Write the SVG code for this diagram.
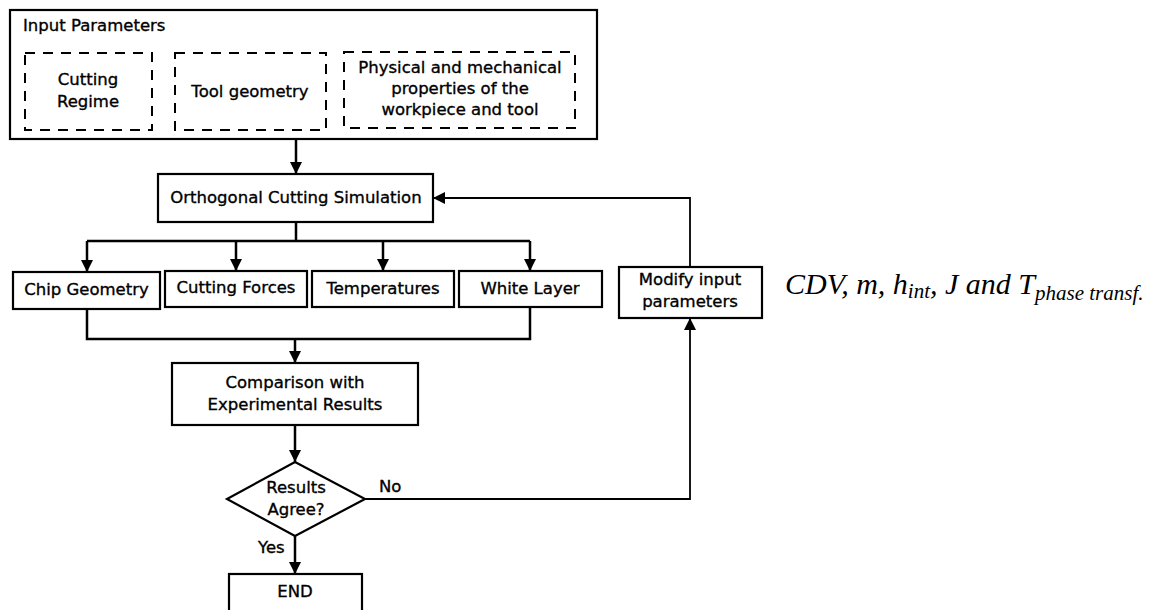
<svg xmlns="http://www.w3.org/2000/svg" width="1152" height="610" viewBox="0 0 1152 610">
<style>
.box{fill:#fff;stroke:#000;stroke-width:2.2}
.dash{fill:none;stroke:#000;stroke-width:2;stroke-dasharray:10 8}
.t{font-family:"DejaVu Sans",sans-serif;font-size:16.5px;fill:#000;stroke:#000;stroke-width:0.35}
.c{text-anchor:middle}
.ln{fill:none;stroke:#000;stroke-width:2.5}
.fb{fill:none;stroke:#000;stroke-width:1.8}
.f{font-family:"Liberation Serif","Times New Roman",serif;font-style:italic;fill:#000}
</style>
<defs>
<marker id="ah" viewBox="0 0 12 12" refX="12" refY="6" markerWidth="12" markerHeight="12" markerUnits="userSpaceOnUse" orient="auto">
<path d="M0,0 L12,6 L0,12 Z" fill="#000"/>
</marker>
</defs>
<rect width="1152" height="610" fill="#fff"/>
<g id="connectors">
<path class="ln" d="M296,139 V174" marker-end="url(#ah)"/>
<path class="ln" d="M296,222 V241 M87,241 H530"/>
<path class="ln" d="M87,241 V272" marker-end="url(#ah)"/>
<path class="ln" d="M236,241 V271" marker-end="url(#ah)"/>
<path class="ln" d="M383,241 V271" marker-end="url(#ah)"/>
<path class="ln" d="M530,241 V271" marker-end="url(#ah)"/>
<path class="ln" d="M87,309 V339 H530 V307"/>
<path class="ln" d="M295,339 V363" marker-end="url(#ah)"/>
<path class="ln" d="M295,425 V462" marker-end="url(#ah)"/>
<path class="ln" d="M295,536 V574" marker-end="url(#ah)"/>
<path class="fb" d="M365,499 H690 V318" marker-end="url(#ah)"/>
<path class="fb" d="M690,267 V198 H433" marker-end="url(#ah)"/>
<text class="t" x="379" y="492">No</text>
<text class="t" x="258" y="553">Yes</text>
</g>
<g id="input-parameters">
<rect class="box" x="10" y="10" width="587" height="129"/>
<text class="t" x="23" y="31">Input Parameters</text>
</g>
<g id="cutting-regime">
<rect class="dash" x="25" y="53" width="127" height="77"/>
<text class="t c" x="88" y="85">Cutting</text>
<text class="t c" x="88" y="107">Regime</text>
</g>
<g id="tool-geometry">
<rect class="dash" x="175" y="53" width="151" height="77"/>
<text class="t c" x="250" y="97">Tool geometry</text>
</g>
<g id="properties">
<rect class="dash" x="344" y="52" width="231" height="76"/>
<text class="t c" x="460" y="73">Physical and mechanical</text>
<text class="t c" x="460" y="94">properties of the</text>
<text class="t c" x="460" y="115">workpiece and tool</text>
</g>
<g id="simulation">
<rect class="box" x="158" y="174" width="275" height="48"/>
<text class="t c" x="296" y="203">Orthogonal Cutting Simulation</text>
</g>
<g id="chip-geometry">
<rect class="box" x="13" y="272" width="147" height="37"/>
<text class="t c" x="86.5" y="295">Chip Geometry</text>
</g>
<g id="cutting-forces">
<rect class="box" x="165" y="271" width="142" height="36"/>
<text class="t c" x="236" y="293">Cutting Forces</text>
</g>
<g id="temperatures">
<rect class="box" x="312" y="271" width="142" height="36"/>
<text class="t c" x="383" y="294">Temperatures</text>
</g>
<g id="white-layer">
<rect class="box" x="459" y="271" width="143" height="36"/>
<text class="t c" x="530" y="294">White Layer</text>
</g>
<g id="modify">
<rect class="box" x="619" y="267" width="143" height="51"/>
<text class="t c" x="690" y="285">Modify input</text>
<text class="t c" x="690" y="307">parameters</text>
</g>
<g id="comparison">
<rect class="box" x="172" y="363" width="246" height="62"/>
<text class="t c" x="295" y="388">Comparison with</text>
<text class="t c" x="295" y="410">Experimental Results</text>
</g>
<g id="decision">
<path class="box" d="M295,462 L365,499 L295,536 L227,499 Z"/>
<text class="t c" x="296" y="493">Results</text>
<text class="t c" x="296" y="515">Agree?</text>
</g>
<g id="end">
<rect class="box" x="229" y="574" width="133" height="45"/>
<text class="t c" x="295" y="597">END</text>
</g>
<g id="formula">
<text class="f" x="785" y="294" font-size="30">CDV, m, h<tspan font-size="21" dy="4">int</tspan><tspan dy="-4">, J and T</tspan><tspan font-size="21" dy="6">phase transf.</tspan></text>
</g>
</svg>
